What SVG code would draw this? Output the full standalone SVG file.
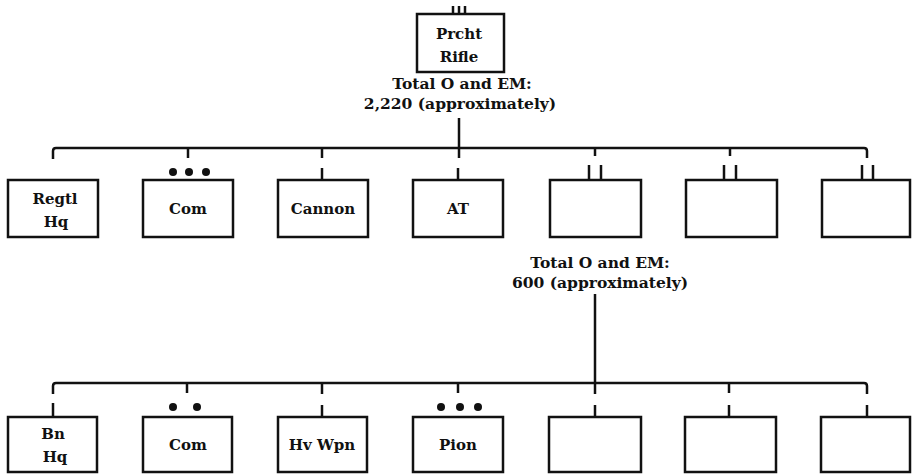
<svg xmlns="http://www.w3.org/2000/svg" width="912" height="474" viewBox="0 0 912 474">
<style>
.box{fill:#fff;stroke:#111;stroke-width:2.5}
.ln{fill:none;stroke:#111;stroke-width:2.5;stroke-linecap:butt}
.t{font-family:"DejaVu Serif","Liberation Serif",serif;font-weight:bold;font-size:15px;fill:#111;text-anchor:middle}
.h{font-family:"DejaVu Serif","Liberation Serif",serif;font-weight:bold;font-size:15.5px;fill:#111;text-anchor:middle}
.dot{fill:#111}
</style>
<rect width="912" height="474" fill="#fff"/>
<g id="connectors">
  <line class="ln" x1="459" y1="118" x2="459" y2="158"/>
  <path class="ln" d="M53,159 V151 Q53,148 56,148 H864 Q867,148 867,151 V158"/>
  <line class="ln" x1="188" y1="148" x2="188" y2="158"/>
  <line class="ln" x1="322" y1="148" x2="322" y2="158"/>
  <line class="ln" x1="322" y1="168" x2="322" y2="180"/>
  <line class="ln" x1="458" y1="168" x2="458" y2="180"/>
  <line class="ln" x1="595" y1="148" x2="595" y2="156"/>
  <line class="ln" x1="730" y1="148" x2="730" y2="156"/>
  <line class="ln" x1="595" y1="294" x2="595" y2="394"/>
  <path class="ln" d="M53,394 V386 Q53,383 56,383 H864 Q867,383 867,386 V394"/>
  <line class="ln" x1="187" y1="383" x2="187" y2="393"/>
  <line class="ln" x1="322" y1="383" x2="322" y2="394"/>
  <line class="ln" x1="458" y1="383" x2="458" y2="393"/>
  <line class="ln" x1="729" y1="383" x2="729" y2="393"/>
  <line class="ln" x1="53" y1="403" x2="53" y2="417"/>
  <line class="ln" x1="322" y1="405" x2="322" y2="417"/>
  <line class="ln" x1="595" y1="405" x2="595" y2="417"/>
  <line class="ln" x1="729" y1="405" x2="729" y2="417"/>
  <line class="ln" x1="867" y1="405" x2="867" y2="417"/>
</g>
<g id="prcht-rifle">
  <rect class="box" x="417" y="14" width="87" height="58"/>
  <line class="ln" x1="453" y1="6" x2="453" y2="14"/>
  <line class="ln" x1="459" y1="6" x2="459" y2="14"/>
  <line class="ln" x1="465" y1="6" x2="465" y2="14"/>
  <text class="t" x="459" y="39">Prcht</text>
  <text class="t" x="459" y="62">Rifle</text>
</g>
<g id="total-regt">
  <text class="h" x="462" y="89">Total O and EM:</text>
  <text class="h" x="460" y="109">2,220 (approximately)</text>
</g>
<g id="regtl-hq">
  <rect class="box" x="8" y="180" width="90" height="57"/>
  <text class="t" x="55" y="204">Regtl</text>
  <text class="t" x="56" y="227">Hq</text>
</g>
<g id="com-1">
  <rect class="box" x="143" y="180" width="90" height="57"/>
  <circle class="dot" cx="173" cy="172" r="4"/>
  <circle class="dot" cx="189" cy="172" r="4"/>
  <circle class="dot" cx="206" cy="172" r="4"/>
  <text class="t" x="188" y="214">Com</text>
</g>
<g id="cannon">
  <rect class="box" x="278" y="180" width="90" height="57"/>
  <text class="t" x="323" y="214">Cannon</text>
</g>
<g id="at">
  <rect class="box" x="413" y="180" width="90" height="57"/>
  <text class="t" x="458" y="214">AT</text>
</g>
<g id="bn-1">
  <rect class="box" x="550" y="180" width="91" height="57"/>
  <line class="ln" x1="589" y1="165" x2="589" y2="180"/>
  <line class="ln" x1="601" y1="165" x2="601" y2="180"/>
</g>
<g id="bn-2">
  <rect class="box" x="686" y="180" width="91" height="57"/>
  <line class="ln" x1="724" y1="165" x2="724" y2="180"/>
  <line class="ln" x1="736" y1="165" x2="736" y2="180"/>
</g>
<g id="bn-3">
  <rect class="box" x="822" y="180" width="88" height="57"/>
  <line class="ln" x1="862" y1="165" x2="862" y2="180"/>
  <line class="ln" x1="873" y1="165" x2="873" y2="180"/>
</g>
<g id="total-bn">
  <text class="h" x="600" y="268">Total O and EM:</text>
  <text class="h" x="600" y="288">600 (approximately)</text>
</g>
<g id="bn-hq">
  <rect class="box" x="8" y="417" width="89" height="55"/>
  <text class="t" x="53" y="439">Bn</text>
  <text class="t" x="55" y="462">Hq</text>
</g>
<g id="com-2">
  <rect class="box" x="143" y="417" width="89" height="55"/>
  <circle class="dot" cx="173" cy="407" r="4"/>
  <circle class="dot" cx="197" cy="407" r="4"/>
  <text class="t" x="188" y="450">Com</text>
</g>
<g id="hv-wpn">
  <rect class="box" x="278" y="417" width="89" height="55"/>
  <text class="t" x="322" y="450">Hv Wpn</text>
</g>
<g id="pion">
  <rect class="box" x="413" y="417" width="90" height="55"/>
  <circle class="dot" cx="441" cy="407" r="4"/>
  <circle class="dot" cx="460" cy="407" r="4"/>
  <circle class="dot" cx="478" cy="407" r="4"/>
  <text class="t" x="458" y="450">Pion</text>
</g>
<g id="co-1">
  <rect class="box" x="549" y="417" width="92" height="55"/>
</g>
<g id="co-2">
  <rect class="box" x="685" y="417" width="91" height="55"/>
</g>
<g id="co-3">
  <rect class="box" x="821" y="417" width="89" height="55"/>
</g>
</svg>
